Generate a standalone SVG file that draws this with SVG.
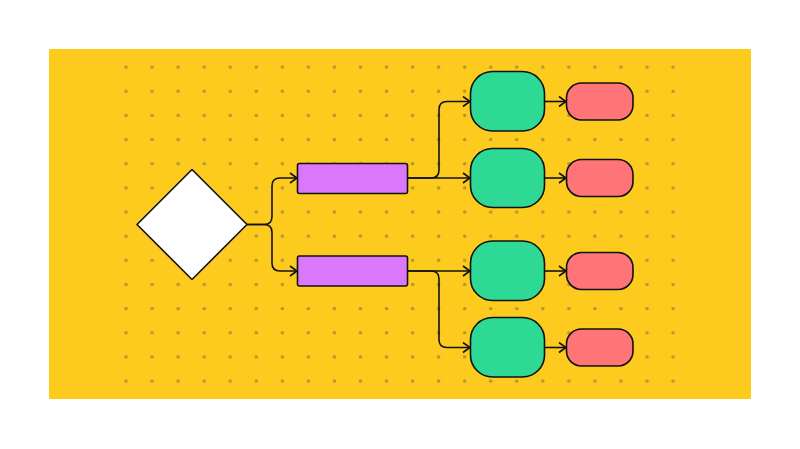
<svg xmlns="http://www.w3.org/2000/svg" width="800" height="449" viewBox="0 0 800 449">
<style>
.node{stroke:#111;stroke-width:1.6;stroke-linejoin:round}
.dia{fill:#fff}
.pur{fill:#DA77FB}
.grn{fill:#2ED996}
.red{fill:#FF7577}
.con path{fill:none;stroke:#111;stroke-width:1.6;marker-end:url(#arr)}
</style>
<defs>
<pattern id="dots" x="113" y="55" width="26.05" height="24.15" patternUnits="userSpaceOnUse">
<circle cx="13.025" cy="12.075" r="1.8" fill="#B8962C"/>
</pattern>
<marker id="arr" viewBox="0 0 10 12" refX="9" refY="6" markerWidth="10" markerHeight="12" markerUnits="userSpaceOnUse" orient="auto">
<path d="M2,1 L9,6 L2,11" fill="none" stroke="#111" stroke-width="1.6"/>
</marker>
</defs>
<rect x="0" y="0" width="800" height="449" fill="#fff"/>
<rect x="49" y="49" width="702" height="350" fill="#FDCB1E"/>
<rect x="113" y="55" width="573.1" height="338.1" fill="url(#dots)"/>
<g class="con" id="connectors">
<path d="M247,224.5 H264 Q272,224.5 272,216.5 V186 Q272,178 280,178 H297"/>
<path d="M247,224.5 H264 Q272,224.5 272,232.5 V263 Q272,271 280,271 H297"/>
<path d="M407,178 H470"/>
<path d="M407,178 H431 Q439,178 439,170 V109.5 Q439,101.5 447,101.5 H470"/>
<path d="M407,271 H470"/>
<path d="M407,271 H431 Q439,271 439,279 V339.5 Q439,347.5 447,347.5 H470"/>
<path d="M544,101.5 H566"/>
<path d="M544,178 H566"/>
<path d="M544,271 H566"/>
<path d="M544,347.5 H566"/>
</g>
<g id="decision"><polygon class="node dia" points="192,169.5 247,224.5 192,279.5 137,224.5"/></g>
<g id="process1"><rect class="node pur" x="297.5" y="163.5" width="110" height="30" rx="2"/></g>
<g id="process2"><rect class="node pur" x="297.5" y="256" width="110" height="30" rx="2"/></g>
<g id="green1"><rect class="node grn" x="470.5" y="71.5" width="74" height="59.5" rx="22"/></g>
<g id="green2"><rect class="node grn" x="470.5" y="148.5" width="74" height="59" rx="22"/></g>
<g id="green3"><rect class="node grn" x="470.5" y="241" width="74" height="59.5" rx="22"/></g>
<g id="green4"><rect class="node grn" x="470.5" y="317.5" width="74" height="59.5" rx="22"/></g>
<g id="red1"><rect class="node red" x="566.5" y="83" width="66.5" height="37" rx="15"/></g>
<g id="red2"><rect class="node red" x="566.5" y="159.5" width="66.5" height="37" rx="15"/></g>
<g id="red3"><rect class="node red" x="566.5" y="252.5" width="66.5" height="37" rx="15"/></g>
<g id="red4"><rect class="node red" x="566.5" y="329" width="66.5" height="37" rx="15"/></g>
</svg>
